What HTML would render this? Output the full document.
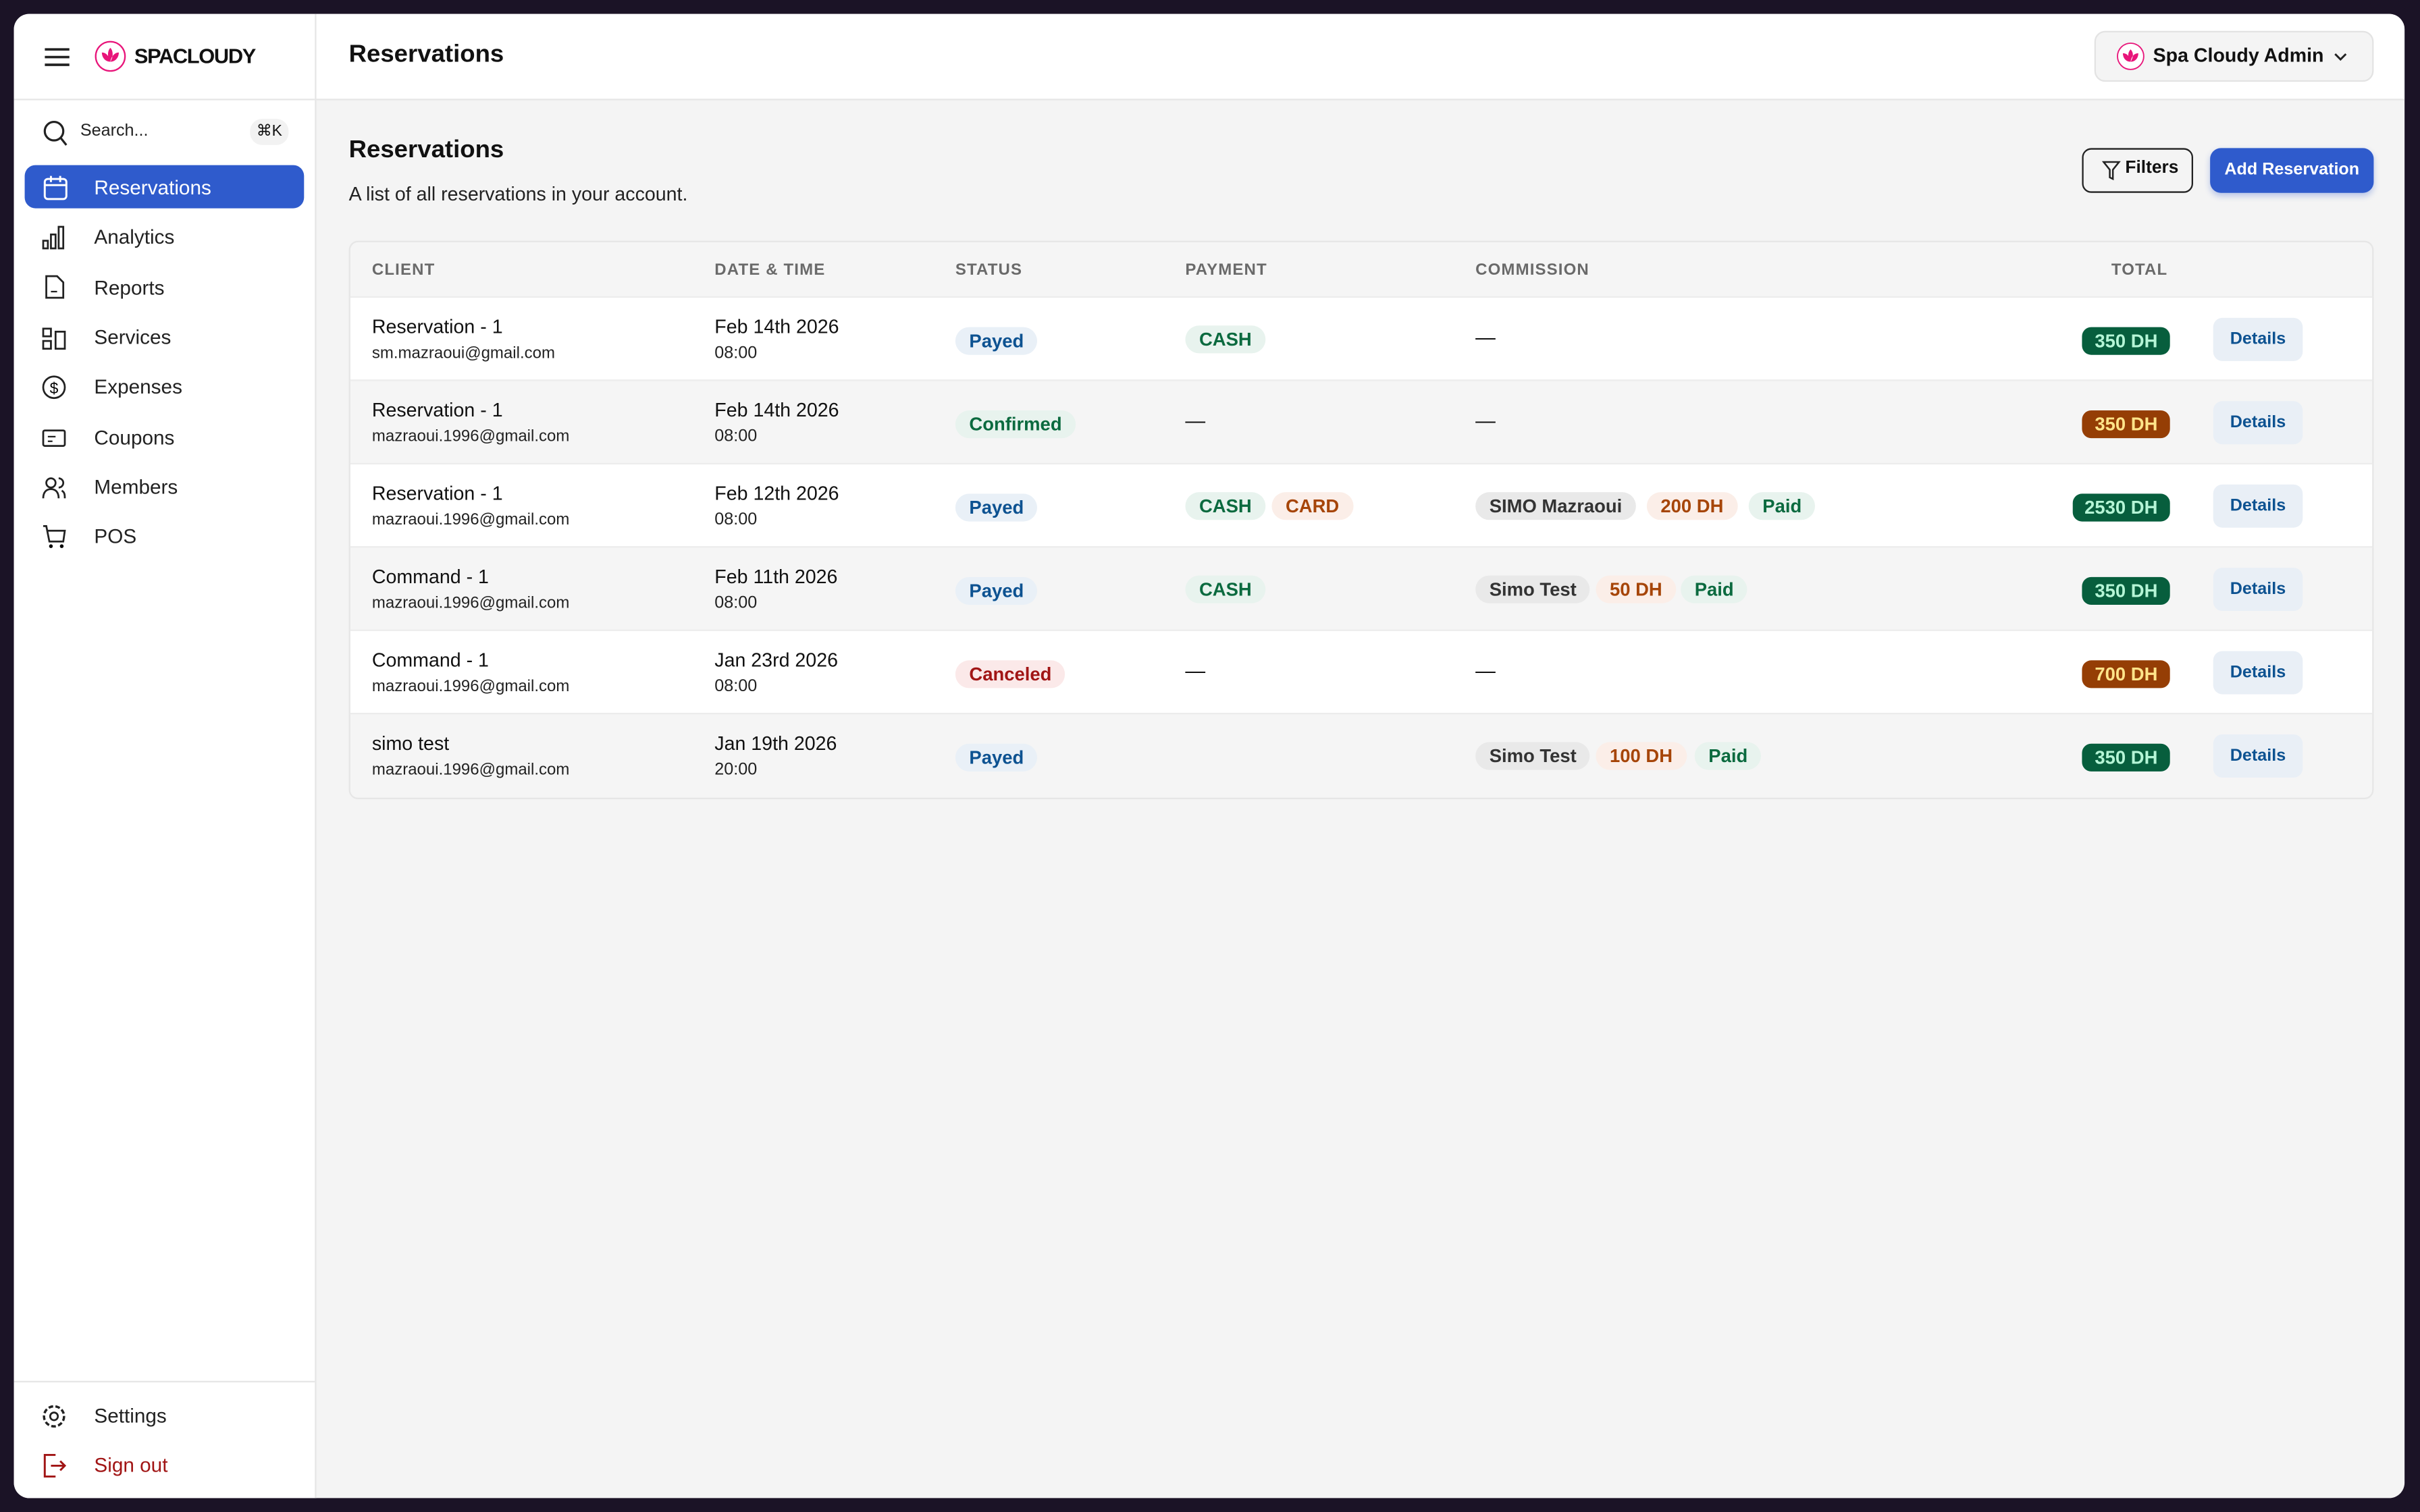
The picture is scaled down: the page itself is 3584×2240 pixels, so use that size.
<!DOCTYPE html>
<html><head><meta charset="utf-8"><style>
*{box-sizing:border-box;margin:0;padding:0}
html,body{width:3584px;height:2240px;overflow:hidden;background:#1b1326}
#s{position:absolute;left:0;top:0;width:1568px;height:980px;transform:scale(2.285714);transform-origin:0 0;font-family:"Liberation Sans",sans-serif;color:#111}
.win{position:absolute;left:9px;top:9px;width:1549px;height:962px;background:#f4f4f4;border-radius:10px;overflow:hidden}
.side{position:absolute;left:0;top:0;width:196px;height:962px;background:#fff;border-right:1px solid #e6e6e6}
.hdr{position:absolute;left:196px;top:0;right:0;height:56px;background:#fff;border-bottom:1px solid #e6e6e6}
.a{position:absolute;white-space:nowrap}
.nav{position:absolute;left:52px;font-size:13px;color:#222}
.ic{position:absolute;left:18px;width:16px;height:16px}
.b{position:absolute;height:18px;line-height:18px;border-radius:9px;padding:0 9px;font-size:12px;font-weight:bold;white-space:nowrap}
.blue{background:#e9f0f7;color:#0d5291}.grn{background:#e8f3ee;color:#0b6a3f}.org{background:#fbeee8;color:#a64508}.red{background:#fbe9e9;color:#a11515}.gry{background:#e9e9e9;color:#333}
.tot{position:absolute;height:18px;line-height:18px;border-radius:6px;padding:0 8px;font-size:12px;font-weight:bold}
.tg{background:#075e3d;color:#b5f5d6}.to{background:#953e05;color:#ffe48a}
.det{position:absolute;left:1207px;width:58px;height:28px;line-height:28px;text-align:center;background:#e9eff6;border-radius:6px;color:#0d5291;font-size:11px;font-weight:bold}
.th{position:absolute;top:12px;font-size:10.5px;font-weight:bold;color:#6a6a6a;letter-spacing:.5px}
.row{position:absolute;left:0;width:1311px;height:54px;border-top:1px solid #ececec}
.n{position:absolute;left:14px;top:12px;font-size:12.5px}
.e{position:absolute;left:14px;top:30px;font-size:10.5px;color:#222}
.d{position:absolute;left:236px;top:12px;font-size:12.5px}
.t{position:absolute;left:236px;top:30px;font-size:11px;color:#222}
.dash{position:absolute;top:18px;font-size:13px}
</style></head><body><div id="s">
<div class="win">
<div class="side">
 <svg class="a" style="left:20px;top:22px" width="16" height="12"><path d="M0 1h16M0 6h16M0 11h16" stroke="#222" stroke-width="1.6"/></svg>
 <svg class="a" style="left:52px;top:17px" width="21" height="21"><circle cx="10.5" cy="10.5" r="9.5" fill="#fff" stroke="#e8157a" stroke-width="1"/><path d="M10.5 5c2 2 2 6 0 9-2-3-2-7 0-9zM5 8c3 0 5 3 5.5 6C7 14 5 11 5 8zM16 8c-3 0-5 3-5.5 6 3.5 0 5.5-3 5.5-6z" fill="#e8157a"/></svg>
 <div class="a" style="left:78px;top:20px;font-size:13.5px;font-weight:bold;letter-spacing:-.6px">SPACLOUDY</div>
 <div class="a" style="left:0;top:55px;width:195px;border-top:1px solid #e6e6e6"></div>
 <svg class="a" style="left:19px;top:69px" width="16" height="17"><circle cx="7" cy="7" r="6" fill="none" stroke="#222" stroke-width="1.4"/><path d="M11 11l4 5" stroke="#222" stroke-width="1.4"/></svg>
 <div class="a" style="left:43px;top:70px;font-size:11px;color:#222">Search...</div>
 <div class="a" style="left:153px;top:68px;width:25px;height:17px;border-radius:8px;background:#f2f2f2;font-size:10px;text-align:center;line-height:17px">⌘K</div>
 <div class="a" style="left:7px;top:98px;width:181px;height:28px;background:#2f5bcc;border-radius:7px"></div>
 <svg class="a" style="left:19px;top:104px" width="16" height="17"><rect x="1" y="3" width="14" height="13" rx="2" fill="none" stroke="#fff" stroke-width="1.3"/><path d="M1 7h14M5 1v4M11 1v4" stroke="#fff" stroke-width="1.3"/></svg>
 <div class="nav" style="top:105px;color:#fff">Reservations</div>
 <svg class="ic" style="top:137px"><path d="M1 10h3v5H1zM6 6h3v9H6zM11 1h3v14h-3z" fill="none" stroke="#222" stroke-width="1.2"/></svg><div class="nav" style="top:137px">Analytics</div>
 <svg class="ic" style="top:169px"><path d="M3 1h7l4 4v10H3z" fill="none" stroke="#222" stroke-width="1.2"/><path d="M6 11h4" stroke="#222"/></svg><div class="nav" style="top:170px">Reports</div>
 <svg class="ic" style="top:202px"><path d="M1 2h5v5H1zM1 10h5v5H1zM9 4h6v11H9z" fill="none" stroke="#222" stroke-width="1.2"/></svg><div class="nav" style="top:202px">Services</div>
 <svg class="ic" style="top:234px"><circle cx="8" cy="8" r="7" fill="none" stroke="#222" stroke-width="1.2"/><text x="8" y="12" font-size="10" text-anchor="middle" font-family="Liberation Sans">$</text></svg><div class="nav" style="top:234px">Expenses</div>
 <svg class="ic" style="top:267px"><rect x="1" y="3" width="14" height="10" rx="1" fill="none" stroke="#222" stroke-width="1.2"/><path d="M4 7h5M4 10h3" stroke="#222"/></svg><div class="nav" style="top:267px">Coupons</div>
 <svg class="ic" style="top:299px"><circle cx="6" cy="5" r="3" fill="none" stroke="#222" stroke-width="1.2"/><path d="M1 15c0-4 2-6 5-6s5 2 5 6M11 2a3 3 0 010 6M13 10c2 1 2 3 2 5" fill="none" stroke="#222" stroke-width="1.2"/></svg><div class="nav" style="top:299px">Members</div>
 <svg class="ic" style="top:331px"><path d="M1 1h2l2 10h9l1-7H4" fill="none" stroke="#222" stroke-width="1.2"/><circle cx="6" cy="14" r="1.2"/><circle cx="13" cy="14" r="1.2"/></svg><div class="nav" style="top:331px">POS</div>
 <div class="a" style="left:0;top:886px;width:195px;border-top:1px solid #e6e6e6"></div>
 <svg class="ic" style="top:901px"><circle cx="8" cy="8" r="6.5" fill="none" stroke="#222" stroke-width="1.5" stroke-dasharray="3 1.5"/><circle cx="8" cy="8" r="2.5" fill="none" stroke="#222" stroke-width="1.2"/></svg><div class="nav" style="top:901px">Settings</div>
 <svg class="ic" style="top:933px"><path d="M9 1H2v14h7M6 8h9M12 5l3 3-3 3" fill="none" stroke="#a11515" stroke-width="1.3"/></svg><div class="nav" style="top:933px;color:#a11515">Sign out</div>
</div>
<div class="hdr">
 <div class="a" style="left:21px;top:18px;font-size:16px;font-weight:bold">Reservations</div>
 <div class="a" style="left:1152px;top:11px;width:181px;height:33px;border:1px solid #e3e3e3;border-radius:7px;background:#f4f4f4"></div>
 <svg class="a" style="left:1166px;top:18px" width="19" height="19"><circle cx="9.5" cy="9.5" r="8.5" fill="#fff" stroke="#e8157a" stroke-width=".8"/><path d="M9.5 5c2 2 2 5 0 8-2-3-2-6 0-8zM4.5 7.5c3 0 4.5 2.5 5 5.5-3.2 0-5-2.5-5-5.5zM14.5 7.5c-3 0-4.5 2.5-5 5.5 3.2 0 5-2.5 5-5.5z" fill="#e8157a"/></svg>
 <div class="a" style="left:1190px;top:20px;font-size:12.5px;font-weight:bold">Spa Cloudy Admin</div>
 <svg class="a" style="left:1307px;top:25px" width="9" height="6"><path d="M1 1l3.5 3.5L8 1" fill="none" stroke="#222" stroke-width="1.3"/></svg>
</div>
<div class="a" style="left:217px;top:80px;font-size:16px;font-weight:bold">Reservations</div>
<div class="a" style="left:217px;top:110px;font-size:12.5px;color:#222">A list of all reservations in your account.</div>
<div class="a" style="left:1340px;top:87px;width:72px;height:29px;border:1.2px solid #222;border-radius:6px"></div>
<svg class="a" style="left:1353px;top:95px" width="12" height="13"><path d="M1 1h10l-4 5v6l-2-1V6z" fill="none" stroke="#222" stroke-width="1.1"/></svg>
<div class="a" style="left:1368px;top:94px;font-size:11.5px;font-weight:bold">Filters</div>
<div class="a" style="left:1423px;top:87px;width:106px;height:29px;background:#2f5bcc;border-radius:7px;color:#fff;font-size:11px;font-weight:bold;text-align:center;line-height:29px;box-shadow:0 2px 4px rgba(47,91,204,.3)">Add Reservation</div>
<div class="a" style="left:217px;top:147px;width:1312px;height:362px;border:1px solid #e6e6e6;border-radius:6px;background:#f5f5f5;overflow:hidden">
 <div class="th" style="left:14px">CLIENT</div><div class="th" style="left:236px">DATE &amp; TIME</div><div class="th" style="left:392px">STATUS</div><div class="th" style="left:541px">PAYMENT</div><div class="th" style="left:729px">COMMISSION</div><div class="th" style="left:1141px">TOTAL</div>
 <div class="row" style="top:35px;background:#fff">
  <div class="n">Reservation - 1</div><div class="e">sm.mazraoui@gmail.com</div><div class="d">Feb 14th 2026</div><div class="t">08:00</div>
  <div class="b blue" style="left:392px;top:19px">Payed</div><div class="b grn" style="left:541px;top:18px">CASH</div><div class="dash" style="left:729px">—</div>
  <div class="tot tg" style="right:132px;top:19px">350 DH</div><div class="det" style="top:13px">Details</div></div>
 <div class="row" style="top:89px;background:#f5f5f5">
  <div class="n">Reservation - 1</div><div class="e">mazraoui.1996@gmail.com</div><div class="d">Feb 14th 2026</div><div class="t">08:00</div>
  <div class="b grn" style="left:392px;top:19px">Confirmed</div><div class="dash" style="left:541px">—</div><div class="dash" style="left:729px">—</div>
  <div class="tot to" style="right:132px;top:19px">350 DH</div><div class="det" style="top:13px">Details</div></div>
 <div class="row" style="top:143px;background:#fff">
  <div class="n">Reservation - 1</div><div class="e">mazraoui.1996@gmail.com</div><div class="d">Feb 12th 2026</div><div class="t">08:00</div>
  <div class="b blue" style="left:392px;top:19px">Payed</div><div class="b grn" style="left:541px;top:18px">CASH</div><div class="b org" style="left:597px;top:18px">CARD</div>
  <div class="b gry" style="left:729px;top:18px">SIMO Mazraoui</div><div class="b org" style="left:840px;top:18px">200 DH</div><div class="b grn" style="left:906px;top:18px">Paid</div>
  <div class="tot tg" style="right:132px;top:19px">2530 DH</div><div class="det" style="top:13px">Details</div></div>
 <div class="row" style="top:197px;background:#f5f5f5">
  <div class="n">Command - 1</div><div class="e">mazraoui.1996@gmail.com</div><div class="d">Feb 11th 2026</div><div class="t">08:00</div>
  <div class="b blue" style="left:392px;top:19px">Payed</div><div class="b grn" style="left:541px;top:18px">CASH</div>
  <div class="b gry" style="left:729px;top:18px">Simo Test</div><div class="b org" style="left:807px;top:18px">50 DH</div><div class="b grn" style="left:862px;top:18px">Paid</div>
  <div class="tot tg" style="right:132px;top:19px">350 DH</div><div class="det" style="top:13px">Details</div></div>
 <div class="row" style="top:251px;background:#fff">
  <div class="n">Command - 1</div><div class="e">mazraoui.1996@gmail.com</div><div class="d">Jan 23rd 2026</div><div class="t">08:00</div>
  <div class="b red" style="left:392px;top:19px">Canceled</div><div class="dash" style="left:541px">—</div><div class="dash" style="left:729px">—</div>
  <div class="tot to" style="right:132px;top:19px">700 DH</div><div class="det" style="top:13px">Details</div></div>
 <div class="row" style="top:305px;background:#f5f5f5">
  <div class="n">simo test</div><div class="e">mazraoui.1996@gmail.com</div><div class="d">Jan 19th 2026</div><div class="t">20:00</div>
  <div class="b blue" style="left:392px;top:19px">Payed</div>
  <div class="b gry" style="left:729px;top:18px">Simo Test</div><div class="b org" style="left:807px;top:18px">100 DH</div><div class="b grn" style="left:871px;top:18px">Paid</div>
  <div class="tot tg" style="right:132px;top:19px">350 DH</div><div class="det" style="top:13px">Details</div></div>
</div>
</div>
</div></body></html>
